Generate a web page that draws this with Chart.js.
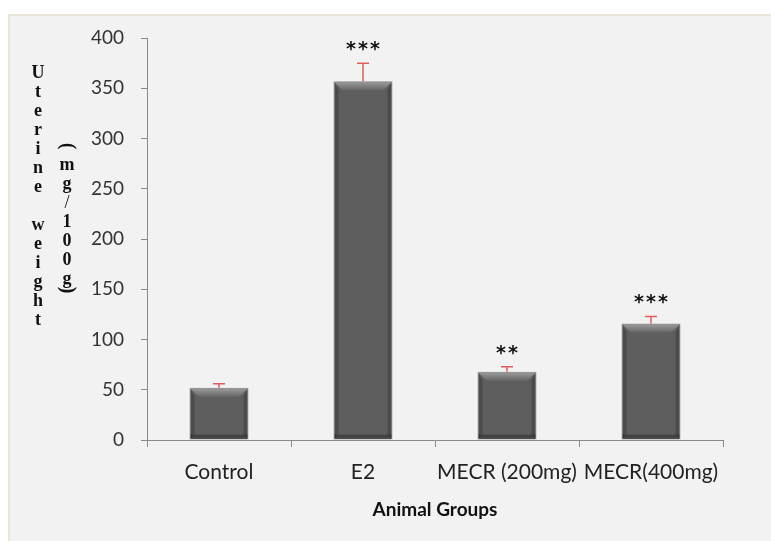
<!DOCTYPE html>
<html>
<head>
<meta charset="utf-8">
<script src="https://cdn.jsdelivr.net/npm/chart.js@4.4.1/dist/chart.umd.min.js"></script>
<style>
  html, body { margin: 0; padding: 0; background: #ffffff; }
  #wrap { width: 771px; height: 541px; }
</style>
</head>
<body>
<div id="wrap"><canvas id="uterineChart" width="771" height="541"></canvas></div>
<script>
const groups = ['Control', 'E2', 'MECR (200mg)', 'MECR(400mg)'];
const weights = [52, 357, 68, 116];      // mg/100g
const errors = [4, 18, 5, 7];
const stars = ['', '***', '**', '***'];
const yTicks = [0, 50, 100, 150, 200, 250, 300, 350, 400];
const yLabelMain = 'Uterine weight';
const yLabelUnit = '(mg/100g)';
const xLabel = 'Animal Groups';

// background panel
const panelPlugin = {
  id: 'panel',
  beforeDraw(chart) {
    const c = chart.ctx;
    c.save();
    c.fillStyle = '#f2f2f2';
    c.fillRect(9, 15, chart.width - 9, chart.height - 15);
    c.strokeStyle = '#e9e5d8';
    c.lineWidth = 2;
    c.beginPath();
    c.moveTo(9, chart.height);
    c.lineTo(9, 15);
    c.lineTo(chart.width, 15);
    c.stroke();
    c.restore();
  }
};

// bevel look on the bars, error bars and significance stars
const barExtras = {
  id: 'barExtras',
  afterDatasetsDraw(chart) {
    const c = chart.ctx;
    const y = chart.scales.y;
    const meta = chart.getDatasetMeta(0);
    c.save();
    meta.data.forEach((bar, i) => {
      const w = bar.width;
      const l = bar.x - w / 2, r = bar.x + w / 2;
      const t = bar.y, b = bar.base;
      const bev = 9;
      // top bevel
      let g = c.createLinearGradient(0, t, 0, t + bev);
      g.addColorStop(0, '#a0a0a0');
      g.addColorStop(1, '#666666');
      c.fillStyle = g;
      c.beginPath();
      c.moveTo(l + 1, t + 1);
      c.lineTo(r - 1, t + 1);
      c.lineTo(r - bev, t + bev);
      c.lineTo(l + bev, t + bev);
      c.closePath();
      c.fill();
      // side edges
      c.fillStyle = 'rgba(40,40,40,0.35)';
      c.beginPath();
      c.moveTo(l + 1, t + 1);
      c.lineTo(l + 5, t + bev);
      c.lineTo(l + 5, b - 5);
      c.lineTo(l + 1, b - 1);
      c.closePath();
      c.fill();
      c.beginPath();
      c.moveTo(r - 1, t + 1);
      c.lineTo(r - 5, t + bev);
      c.lineTo(r - 5, b - 5);
      c.lineTo(r - 1, b - 1);
      c.closePath();
      c.fill();
      // bottom edge
      c.fillStyle = 'rgba(30,30,30,0.4)';
      c.fillRect(l + 1, b - 5, w - 2, 4);

      // error bar
      const yTop = y.getPixelForValue(weights[i] + errors[i]);
      c.strokeStyle = '#e05c5c';
      c.lineWidth = 1.5;
      c.beginPath();
      c.moveTo(bar.x, t);
      c.lineTo(bar.x, yTop);
      c.moveTo(bar.x - 6, yTop);
      c.lineTo(bar.x + 6, yTop);
      c.stroke();

      // stars
      if (stars[i]) {
        c.fillStyle = '#111111';
        c.font = 'bold 19px "DejaVu Sans"';
        c.textAlign = 'center';
        c.textBaseline = 'middle';
        const n = stars[i].length;
        for (let k = 0; k < n; k++) {
          c.fillText('*', bar.x + (k - (n - 1) / 2) * 12, yTop - 13);
        }
      }
    });
    c.restore();
  }
};

// stacked vertical y axis title
const yTitlePlugin = {
  id: 'yTitle',
  afterDraw(chart) {
    const c = chart.ctx;
    c.save();
    c.fillStyle = '#111111';
    c.font = 'bold 18px "Liberation Serif"';
    c.textAlign = 'center';
    c.textBaseline = 'middle';
    let yy = 73;
    for (const ch of yLabelMain) {
      if (ch !== ' ') c.fillText(ch, 38, yy);
      yy += 19;
    }
    yy = 146;
    yLabelUnit.split('').forEach(ch => {
      if (ch === '(' || ch === ')') {
        c.save();
        c.translate(67, ch === '(' ? yy : yy - 8);
        c.rotate(Math.PI / 2);
        c.font = 'bold 20px "Liberation Serif"';
        c.fillText(ch, 0, 0);
        c.restore();
      } else {
        c.font = (ch === '/' ? '' : 'bold ') + '18px "Liberation Serif"';
        c.fillText(ch, 67, yy);
      }
      yy += 19;
    });
    c.restore();
  }
};

new Chart(document.getElementById('uterineChart'), {
  type: 'bar',
  data: {
    labels: groups,
    datasets: [{
      data: weights,
      backgroundColor: '#5e5e5e',
      borderColor: '#8c8c8c',
      borderWidth: 1,
      barPercentage: 0.41,
      categoryPercentage: 1
    }]
  },
  options: {
    responsive: false,
    animation: false,
    layout: { padding: { left: 0, top: 38, right: 48, bottom: 16 } },
    plugins: {
      legend: { display: false },
      tooltip: { enabled: false }
    },
    scales: {
      y: {
        min: 0,
        max: 400,
        afterFit(scale) { scale.width = 147; },
        afterBuildTicks(scale) { scale.ticks = yTicks.map(v => ({ value: v })); },
        border: { color: '#8a8a8a', width: 1 },
        grid: { drawOnChartArea: false, drawTicks: true, tickLength: 6, color: '#8a8a8a' },
        ticks: { color: '#333333', padding: 17, font: { family: 'Lato', size: 19 } }
      },
      x: {
        afterFit(scale) { scale.height = 85; },
        border: { color: '#8a8a8a', width: 1 },
        grid: { drawOnChartArea: false, drawTicks: true, tickLength: 7, color: '#8a8a8a', offset: true },
        ticks: { color: '#222222', padding: 13, maxRotation: 0, autoSkip: false, font: { family: 'Lato', size: 21 } },
        title: {
          display: true,
          text: xLabel,
          color: '#111111',
          padding: { top: 8 },
          font: { family: 'Lato', size: 19, weight: 'bold' }
        }
      }
    }
  },
  plugins: [panelPlugin, barExtras, yTitlePlugin]
});
</script>
</body>
</html>
